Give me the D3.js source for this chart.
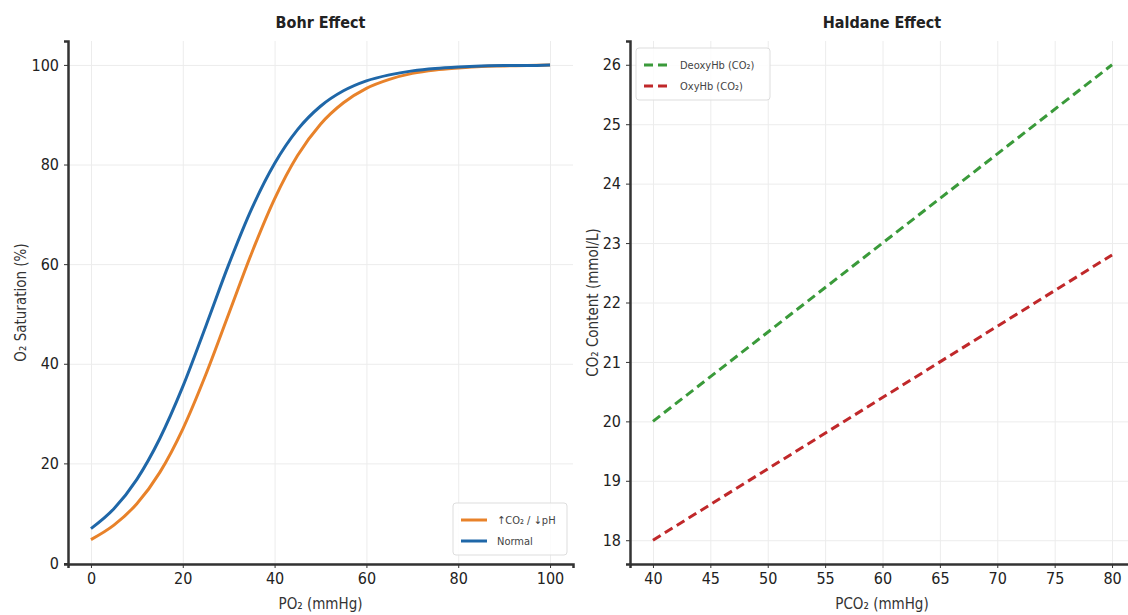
<!DOCTYPE html>
<html lang="en">
<head>
	<meta charset="utf-8">
	<title>Bohr and Haldane Effects</title>
	<script src="https://d3js.org/d3.v7.min.js"></script>
	<style type="text/css">
		body {
			margin: 0;
			background: #fff;
			font-family: "DejaVu Sans Condensed", "DejaVu Sans", sans-serif;
		}

		.tick text {
			font-family: "DejaVu Sans Condensed", "DejaVu Sans", sans-serif;
			font-size: 16px;
			fill: #222;
		}

		.domain {
			stroke: #333;
			stroke-width: 2.5;
		}

		.tick line {
			stroke: #333;
		}

		.grid line {
			stroke: #ececec;
			stroke-width: 1;
		}

		.grid .domain {
			display: none;
		}

		.title {
			font-weight: bold;
			font-size: 16px;
			fill: #222;
		}

		.label {
			font-size: 15px;
			fill: #333;
		}

		.legend text {
			font-size: 11px;
			fill: #444;
		}
	</style>
</head>
<body>
	<div id="vis"></div>

	<script type="text/javascript">

		/* Data */
		/* ==== */

		// Bohr effect: O2 saturation (%) read every 5 mmHg
		const po2 = [0, 5, 10, 15, 20, 25, 30, 35, 40, 45, 50, 55, 60, 65, 70, 75, 80, 85, 90, 95, 100];
		const satShifted = [4.7, 7.6, 11.9, 18.2, 26.9, 37.8, 50.0, 62.2, 73.1, 81.8, 88.1, 92.4, 95.3, 97.1, 98.3, 99.0, 99.4, 99.7, 99.8, 99.9, 100];
		const satNormal = [6.9, 10.9, 16.8, 25.0, 35.4, 47.5, 59.9, 71.1, 80.2, 87.0, 91.7, 94.8, 96.8, 98.0, 98.8, 99.3, 99.6, 99.8, 99.9, 99.9, 100];

		// Haldane effect: CO2 content (mmol/L)
		const pco2 = [40, 80];
		const co2Deoxy = [20, 26];
		const co2Oxy = [18, 22.8];

		// Tick labels
		const bohrXTicks = [0, 20, 40, 60, 80, 100];
		const bohrYTicks = [0, 20, 40, 60, 80, 100];
		const haldXTicks = [40, 45, 50, 55, 60, 65, 70, 75, 80];
		const haldYTicks = [18, 19, 20, 21, 22, 23, 24, 25, 26];

		const bohrSeries = [
			{ name: '\u2191CO\u2082 / \u2193pH', color: '#e8822a', values: satShifted },
			{ name: 'Normal', color: '#1f67a8', values: satNormal }
		];
		const haldSeries = [
			{ name: 'DeoxyHb (CO\u2082)', color: '#3a9a3a', values: co2Deoxy },
			{ name: 'OxyHb (CO\u2082)', color: '#c0282a', values: co2Oxy }
		];


		/* Set up */
		/* ====== */

		var width = 1128, height = 615;

		var svg = d3.select('#vis')
			.append('svg')
			.attr('width', width)
			.attr('height', height);

		function panel(opts) {
			var g = svg.append('g');
			var x = d3.scaleLinear().domain(opts.xDomain).range([opts.left, opts.right]);
			var y = d3.scaleLinear().domain(opts.yDomain).range([opts.bottom, opts.top]);

			// Grid
			g.append('g').attr('class', 'grid')
				.attr('transform', 'translate(0,' + opts.bottom + ')')
				.call(d3.axisBottom(x).tickValues(opts.xTicks).tickSize(-(opts.bottom - opts.top)).tickFormat(''));
			g.append('g').attr('class', 'grid')
				.attr('transform', 'translate(' + opts.left + ',0)')
				.call(d3.axisLeft(y).tickValues(opts.yTicks).tickSize(-(opts.right - opts.left)).tickFormat(''));

			// Lines
			var line = function (xs) {
				return d3.line()
					.x(function (d, i) { return x(xs[i]); })
					.y(function (d) { return y(d); })
					.curve(d3.curveMonotoneX);
			};
			opts.series.forEach(function (s) {
				g.append('path')
					.datum(s.values)
					.attr('fill', 'none')
					.attr('stroke', s.color)
					.attr('stroke-width', 3)
					.attr('stroke-dasharray', opts.dash || null)
					.attr('d', line(opts.xs));
			});

			// Axes
			g.append('g')
				.attr('transform', 'translate(0,' + opts.bottom + ')')
				.call(d3.axisBottom(x).tickValues(opts.xTicks).tickSizeOuter(0).tickSize(4).tickPadding(5));
			g.append('g')
				.attr('transform', 'translate(' + opts.left + ',0)')
				.call(d3.axisLeft(y).tickValues(opts.yTicks).tickSizeOuter(0).tickSize(4).tickPadding(5));

			// Titles and labels
			var cx = (opts.left + opts.right) / 2;
			if (opts.clipRight) cx = opts.labelX;
			g.append('text').attr('class', 'title')
				.attr('x', cx).attr('y', 28)
				.attr('text-anchor', 'middle')
				.text(opts.title);
			g.append('text').attr('class', 'label')
				.attr('x', cx).attr('y', 609)
				.attr('text-anchor', 'middle')
				.text(opts.xLabel);
			g.append('text').attr('class', 'label')
				.attr('transform', 'translate(' + opts.yLabelX + ',' + ((opts.top + opts.bottom) / 2) + ') rotate(-90)')
				.attr('text-anchor', 'middle')
				.text(opts.yLabel);

			// Legend
			var lg = g.append('g').attr('class', 'legend')
				.attr('transform', 'translate(' + opts.legend.x + ',' + opts.legend.y + ')');
			lg.append('rect')
				.attr('width', opts.legend.w).attr('height', 52)
				.attr('rx', 3)
				.attr('fill', '#fff').attr('fill-opacity', 0.85)
				.attr('stroke', '#ddd');
			opts.series.forEach(function (s, i) {
				var yy = 17 + i * 21;
				lg.append('line')
					.attr('x1', 8).attr('x2', 34)
					.attr('y1', yy).attr('y2', yy)
					.attr('stroke', s.color)
					.attr('stroke-width', 3)
					.attr('stroke-dasharray', opts.dash || null);
				lg.append('text')
					.attr('x', 44).attr('y', yy + 4)
					.text(s.name);
			});
		}

		panel({
			left: 68, right: 573, top: 41, bottom: 564,
			xDomain: [-5, 105], yDomain: [-0.2, 104.8],
			xs: po2, series: bohrSeries,
			xTicks: bohrXTicks, yTicks: bohrYTicks,
			title: 'Bohr Effect', xLabel: 'PO\u2082 (mmHg)', yLabel: 'O\u2082 Saturation (%)',
			yLabelX: 26,
			legend: { x: 453, y: 503, w: 114 }
		});

		panel({
			left: 630, right: 1135, top: 41, bottom: 564,
			xDomain: [38, 82], yDomain: [17.6, 26.4],
			xs: pco2, series: haldSeries, dash: '9,5',
			xTicks: haldXTicks, yTicks: haldYTicks,
			title: 'Haldane Effect', xLabel: 'PCO\u2082 (mmHg)', yLabel: 'CO\u2082 Content (mmol/L)',
			clipRight: true, labelX: 882,
			yLabelX: 598,
			legend: { x: 636, y: 48, w: 134 }
		});

	</script>
</body>
</html>
